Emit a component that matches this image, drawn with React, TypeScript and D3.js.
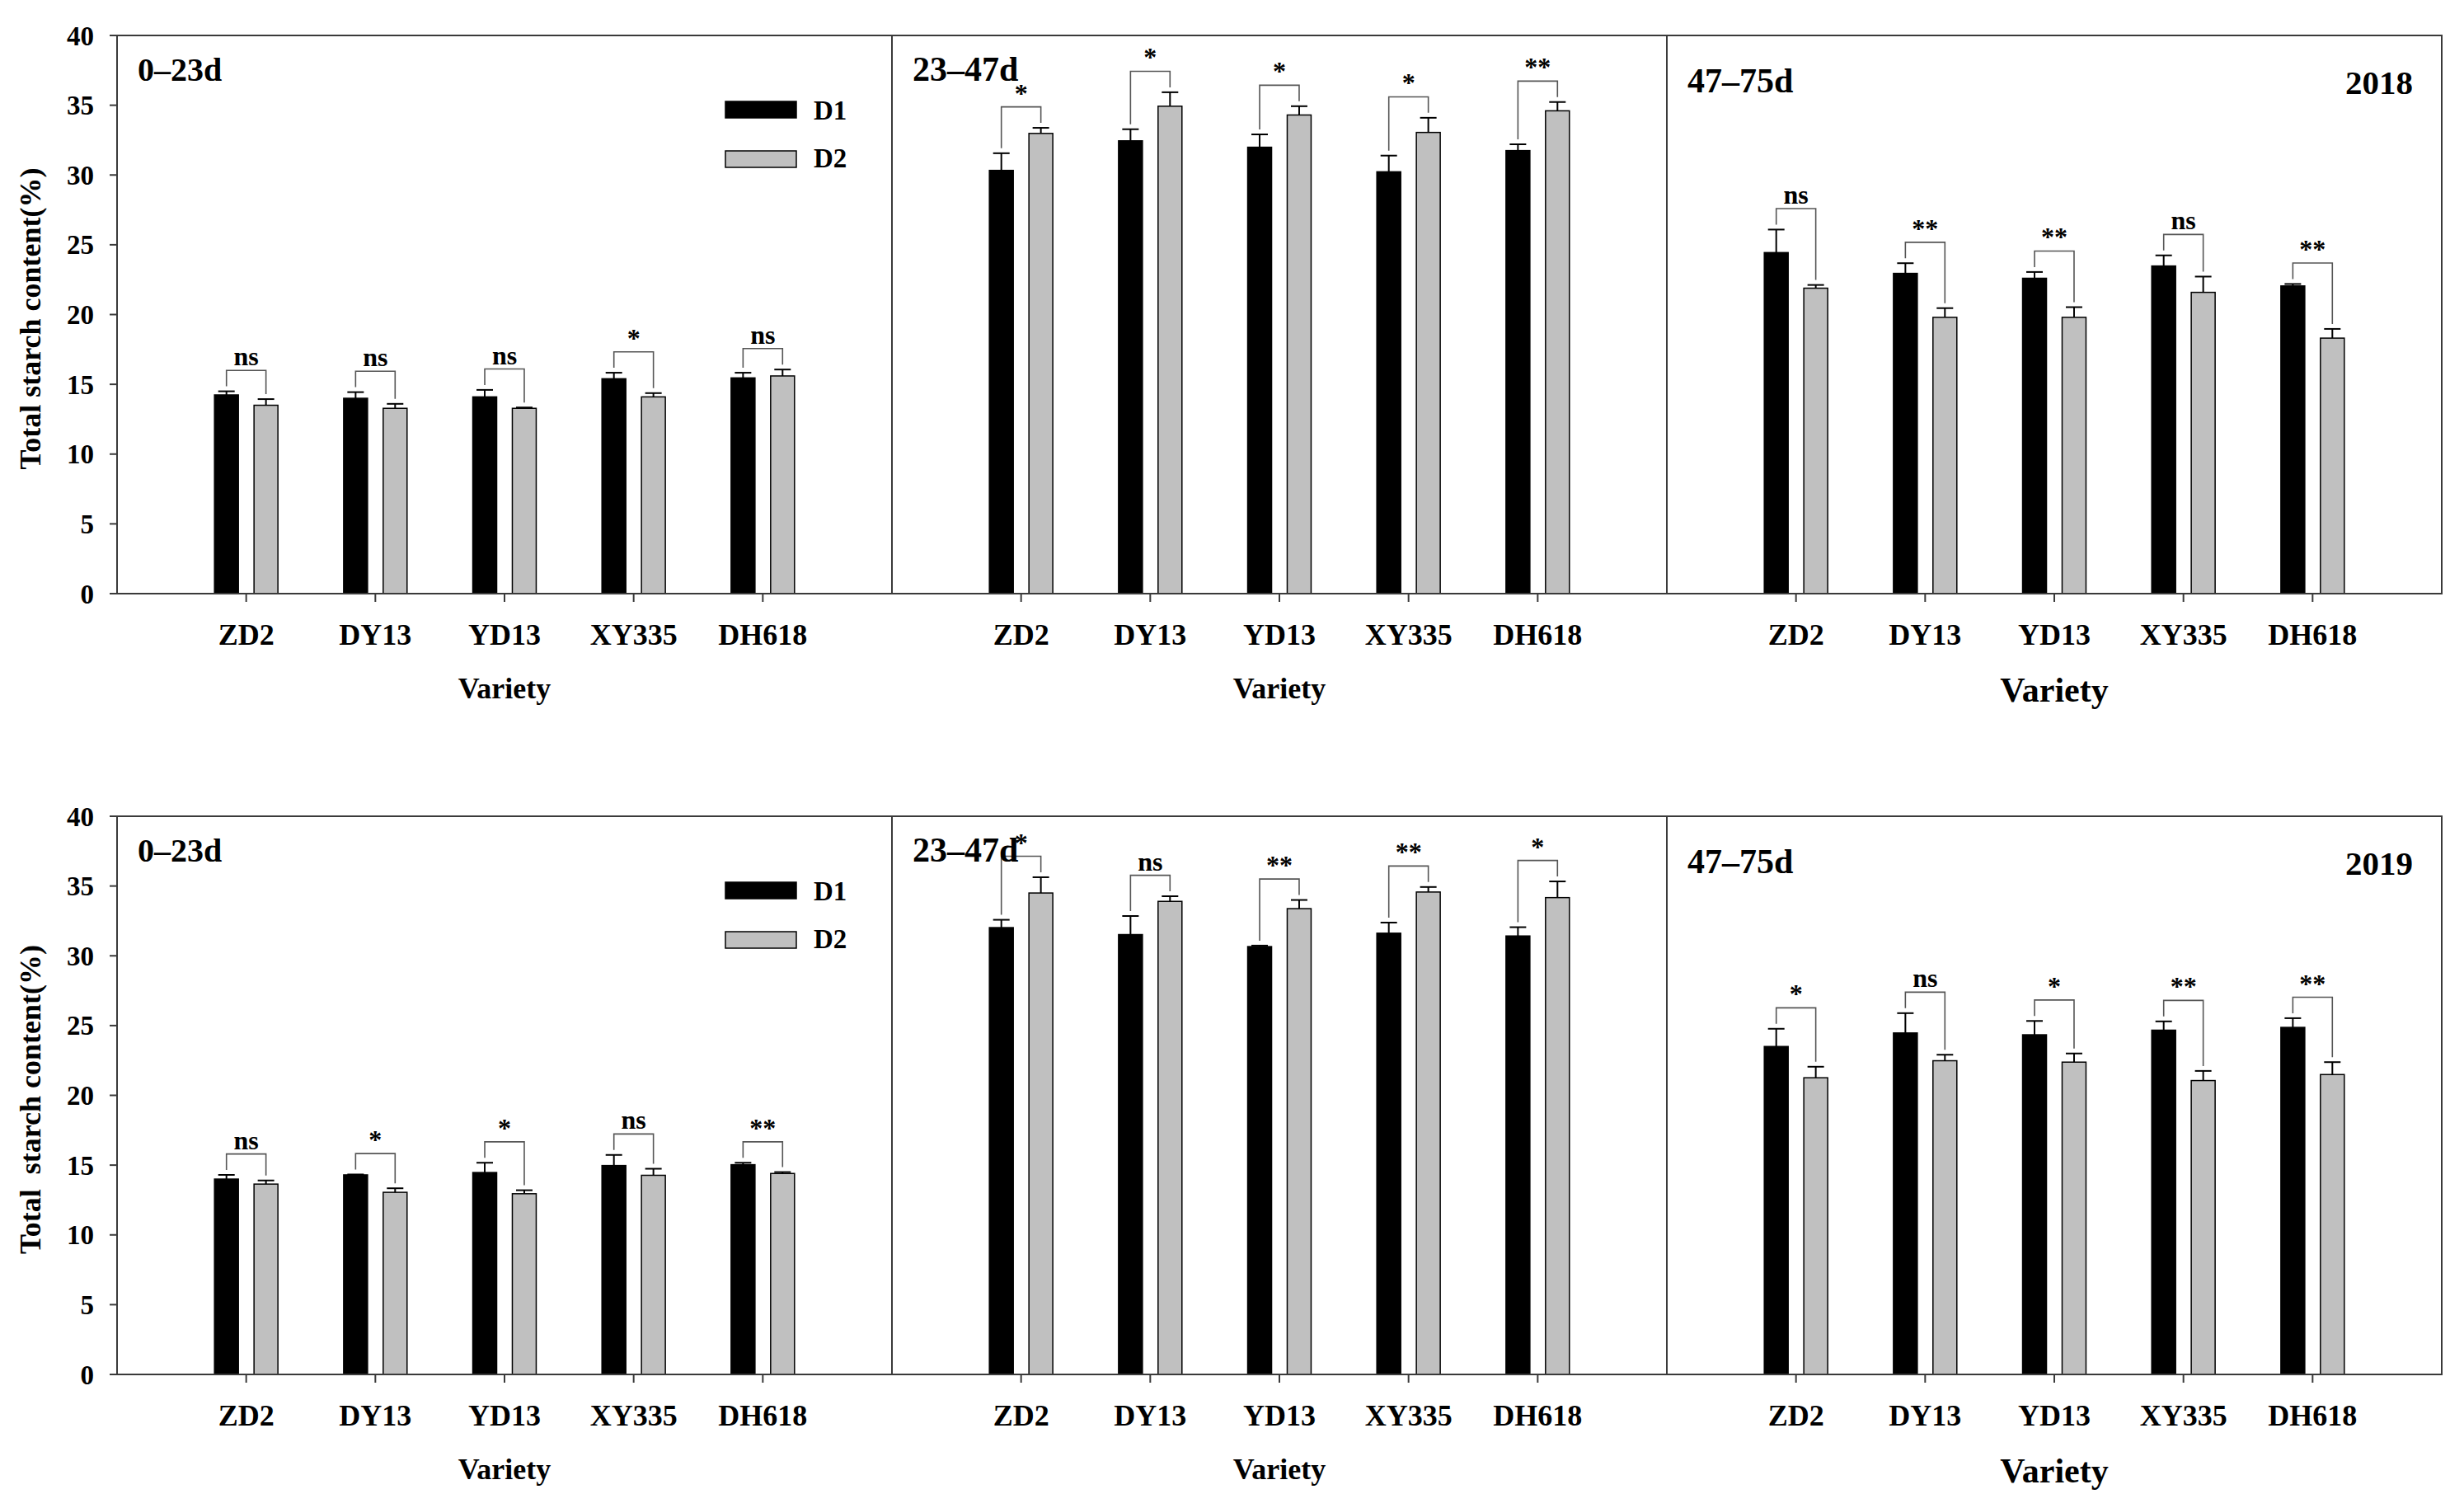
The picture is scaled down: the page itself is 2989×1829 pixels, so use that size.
import React from "react";
import * as d3 from "d3";

const varieties = ["ZD2", "DY13", "YD13", "XY335", "DH618"];
const stages = ["0–23d", "23–47d", "47–75d"];
const years = ["2018", "2019"];
const yTicks = [0, 5, 10, 15, 20, 25, 30, 35, 40];
const yTitles = ["Total starch content(%)", "Total  starch content(%)"];
const seriesNames = ["D1", "D2"];

// 2018
const d1_2018_s1 = [14.24, 14.0, 14.1, 15.4, 15.46];
const d1e_2018_s1 = [0.26, 0.44, 0.5, 0.43, 0.37];
const d2_2018_s1 = [13.5, 13.28, 13.28, 14.1, 15.6];
const d2e_2018_s1 = [0.44, 0.32, 0.06, 0.27, 0.46];
const sig_2018_s1 = ["ns", "ns", "ns", "*", "ns"];

const d1_2018_s2 = [30.33, 32.45, 31.99, 30.23, 31.75];
const d1e_2018_s2 = [1.23, 0.83, 0.92, 1.16, 0.45];
const d2_2018_s2 = [32.98, 34.93, 34.3, 33.05, 34.6];
const d2e_2018_s2 = [0.4, 1.0, 0.63, 1.05, 0.63];
const sig_2018_s2 = ["*", "*", "*", "*", "**"];

const d1_2018_s3 = [24.44, 22.95, 22.6, 23.48, 22.05];
const d1e_2018_s3 = [1.65, 0.73, 0.45, 0.76, 0.14];
const d2_2018_s3 = [21.89, 19.8, 19.8, 21.59, 18.31];
const d2e_2018_s3 = [0.23, 0.66, 0.73, 1.13, 0.66];
const sig_2018_s3 = ["ns", "**", "**", "ns", "**"];

// 2019
const d1_2019_s1 = [14.0, 14.3, 14.47, 14.97, 15.03];
const d1e_2019_s1 = [0.3, 0.03, 0.7, 0.76, 0.14];
const d2_2019_s1 = [13.64, 13.05, 12.95, 14.27, 14.4];
const d2e_2019_s1 = [0.26, 0.29, 0.25, 0.47, 0.1];
const sig_2019_s1 = ["ns", "*", "*", "ns", "**"];

const d1_2019_s2 = [32.02, 31.52, 30.66, 31.62, 31.42];
const d1e_2019_s2 = [0.56, 1.33, 0.07, 0.76, 0.63];
const d2_2019_s2 = [34.5, 33.9, 33.38, 34.57, 34.17];
const d2e_2019_s2 = [1.13, 0.37, 0.62, 0.36, 1.16];
const sig_2019_s2 = ["*", "ns", "**", "**", "*"];

const d1_2019_s3 = [23.5, 24.47, 24.34, 24.67, 24.87];
const d1e_2019_s3 = [1.27, 1.42, 0.99, 0.63, 0.66];
const d2_2019_s3 = [21.26, 22.48, 22.38, 21.06, 21.49];
const d2e_2019_s3 = [0.79, 0.43, 0.62, 0.69, 0.89];
const sig_2019_s3 = ["*", "ns", "*", "**", "**"];

const panelData = [
  [
    { d1: d1_2018_s1, d1e: d1e_2018_s1, d2: d2_2018_s1, d2e: d2e_2018_s1, sig: sig_2018_s1 },
    { d1: d1_2018_s2, d1e: d1e_2018_s2, d2: d2_2018_s2, d2e: d2e_2018_s2, sig: sig_2018_s2 },
    { d1: d1_2018_s3, d1e: d1e_2018_s3, d2: d2_2018_s3, d2e: d2e_2018_s3, sig: sig_2018_s3 },
  ],
  [
    { d1: d1_2019_s1, d1e: d1e_2019_s1, d2: d2_2019_s1, d2e: d2e_2019_s1, sig: sig_2019_s1 },
    { d1: d1_2019_s2, d1e: d1e_2019_s2, d2: d2_2019_s2, d2e: d2e_2019_s2, sig: sig_2019_s2 },
    { d1: d1_2019_s3, d1e: d1e_2019_s3, d2: d2_2019_s3, d2e: d2e_2019_s3, sig: sig_2019_s3 },
  ],
];

const W = 2989;
const H = 1829;
const FONT = "'Liberation Serif', 'Times New Roman', serif";
const FRAME = "#3a3a3a";
const GRAY = "#c0c0c0";

const xLeft = 142;
const xRight = 2962;
const panelW = (xRight - xLeft) / 3;
const rowTops = [43, 990];
const rowH = 677;

function Panel({ row, col }: { row: number; col: number }) {
  const data = panelData[row][col];
  const top = rowTops[row];
  const bottom = top + rowH;
  const left = xLeft + col * panelW;
  const right = left + panelW;
  const y = d3.scaleLinear().domain([0, 40]).range([bottom, top]);
  const x = d3.scaleLinear().domain([0, 6]).range([left, right]);
  const unit = x(1) - x(0);
  const barW = 0.185 * unit;
  const off = 0.153 * unit;
  const capW = 20;
  const sigGap = 1.5;
  const legGap = 6;

  return (
    <g>
      {varieties.map((v, i) => {
        const cx = x(i + 1);
        const c1 = cx - off;
        const c2 = cx + off;
        const e1 = data.d1[i] + data.d1e[i];
        const e2 = data.d2[i] + data.d2e[i];
        const by = y(Math.max(e1, e2) + sigGap);
        return (
          <g key={v}>
            <line x1={c1} x2={c1} y1={y(data.d1[i])} y2={y(e1)} stroke="#000" strokeWidth={2} />
            <line x1={c1 - capW / 2} x2={c1 + capW / 2} y1={y(e1)} y2={y(e1)} stroke="#000" strokeWidth={2} />
            <line x1={c2} x2={c2} y1={y(data.d2[i])} y2={y(e2)} stroke="#000" strokeWidth={2} />
            <line x1={c2 - capW / 2} x2={c2 + capW / 2} y1={y(e2)} y2={y(e2)} stroke="#000" strokeWidth={2} />
            <rect x={c1 - barW / 2} y={y(data.d1[i])} width={barW} height={y(0) - y(data.d1[i])} fill="#000" stroke="#000" strokeWidth={1.5} />
            <rect x={c2 - barW / 2} y={y(data.d2[i])} width={barW} height={y(0) - y(data.d2[i])} fill={GRAY} stroke="#000" strokeWidth={1.5} />
            <path
              d={`M${c1},${y(e1) - legGap} V${by} H${c2} V${y(e2) - legGap}`}
              fill="none"
              stroke="#555"
              strokeWidth={1.6}
            />
            <text x={(c1 + c2) / 2} y={by - 6} textAnchor="middle" fontFamily={FONT} fontWeight="bold" fontSize={32} fill="#000">
              {data.sig[i]}
            </text>
            <line x1={cx} x2={cx} y1={bottom} y2={bottom + 10} stroke={FRAME} strokeWidth={2} />
            <text x={cx} y={bottom + 62} textAnchor="middle" fontFamily={FONT} fontWeight="bold" fontSize={36} fill="#000">
              {v}
            </text>
          </g>
        );
      })}
      <text
        x={(left + right) / 2}
        y={col === 2 ? bottom + 131 : bottom + 127}
        textAnchor="middle"
        fontFamily={FONT}
        fontWeight="bold"
        fontSize={col === 2 ? 42 : 36}
        fill="#000"
      >
        Variety
      </text>
      <text x={left + 25} y={col === 2 ? top + 69 : top + 55} fontFamily={FONT} fontWeight="bold" fontSize={col === 0 ? 40 : 42} fill="#000">
        {stages[col]}
      </text>
      {col === 2 && (
        <text x={right - 35} y={top + 71} textAnchor="end" fontFamily={FONT} fontWeight="bold" fontSize={41} fill="#000">
          {years[row]}
        </text>
      )}
      {col === 0 && (
        <g>
          {seriesNames.map((s, k) => (
            <g key={s}>
              <rect
                x={880}
                y={top + 80 + k * 60}
                width={86}
                height={20}
                fill={k === 0 ? "#000" : GRAY}
                stroke="#000"
                strokeWidth={1.5}
              />
              <text x={987} y={top + 102 + k * 58} fontFamily={FONT} fontWeight="bold" fontSize={33} fill="#000">
                {s}
              </text>
            </g>
          ))}
        </g>
      )}
      {col > 0 && <line x1={left} x2={left} y1={top} y2={bottom} stroke={FRAME} strokeWidth={2} />}
    </g>
  );
}

function Row({ row }: { row: number }) {
  const top = rowTops[row];
  const bottom = top + rowH;
  const y = d3.scaleLinear().domain([0, 40]).range([bottom, top]);
  return (
    <g>
      {[0, 1, 2].map((c) => (
        <Panel key={c} row={row} col={c} />
      ))}
      <rect x={xLeft} y={top} width={xRight - xLeft} height={rowH} fill="none" stroke={FRAME} strokeWidth={2} />
      {yTicks.map((t) => (
        <g key={t}>
          <line x1={xLeft - 9} x2={xLeft} y1={y(t)} y2={y(t)} stroke={FRAME} strokeWidth={2} />
          <text x={114} y={y(t)} dy="0.35em" textAnchor="end" fontFamily={FONT} fontWeight="bold" fontSize={33} fill="#000">
            {t}
          </text>
        </g>
      ))}
      <text
        transform={`translate(37, ${(top + bottom) / 2 + 5}) rotate(-90)`}
        textAnchor="middle"
        dominantBaseline="central"
        fontFamily={FONT}
        fontWeight="bold"
        fontSize={36}
        fill="#000"
        style={{ whiteSpace: "pre" }}
      >
        {yTitles[row]}
      </text>
    </g>
  );
}

export default function App() {
  return (
    <svg
      width={W}
      height={H}
      viewBox={`0 0 ${W} ${H}`}
      style={{ position: "absolute", left: 0, top: 0, background: "#fff", display: "block" }}
    >
      <rect x={0} y={0} width={W} height={H} fill="#fff" />
      {[0, 1].map((r) => (
        <Row key={r} row={r} />
      ))}
    </svg>
  );
}
